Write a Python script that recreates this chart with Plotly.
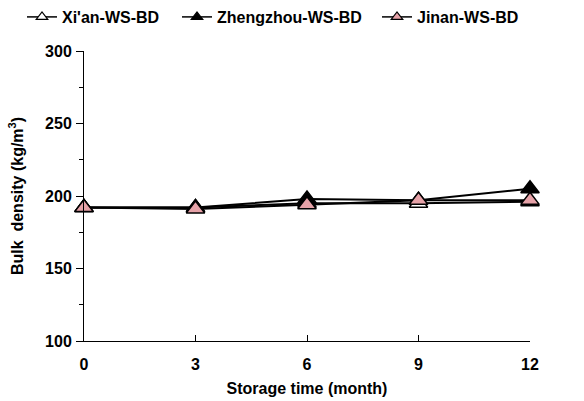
import plotly.graph_objects as go

# Storage time (months) and bulk density (kg/m3) for each wheat-straw bale source
months = [0, 3, 6, 9, 12]
xian_bd = [192, 192, 195, 195, 196]
zhengzhou_bd = [192, 192, 198, 197, 205]
jinan_bd = [192, 191, 194, 197, 197]

series_names = ["Xi'an-WS-BD", "Zhengzhou-WS-BD", "Jinan-WS-BD"]
fill_colors = ["white", "black", "#e6a2a8"]
legend_ids = ["legend", "legend2", "legend3"]
legend_x = [22, 177, 377]  # left edge of each legend entry, px

y_ticks = [100, 150, 200, 250, 300]
x_ticks = [0, 3, 6, 9, 12]

FONT = "Liberation Sans, Arial, sans-serif"
W, H = 584, 401

fig = go.Figure()
for name, vals, fc in zip(series_names, [xian_bd, zhengzhou_bd, jinan_bd], fill_colors):
    fig.add_trace(go.Scatter(
        x=months, y=vals, name=name, mode="lines+markers", showlegend=False,
        line=dict(color="black", width=2),
        marker=dict(symbol="triangle-up", size=16, color=fc,
                    line=dict(color="black", width=1.5)),
        cliponaxis=False,
    ))

# Legend keys: smaller triangles on a short line, one legend per series
for name, fc, lid in zip(series_names, fill_colors, legend_ids):
    fig.add_trace(go.Scatter(
        x=[None], y=[None], name=name, mode="lines+markers", legend=lid,
        line=dict(color="black", width=1.5),
        marker=dict(symbol="triangle-up", size=10, color=fc,
                    line=dict(color="black", width=1.2)),
    ))

legend_style = dict(
    orientation="h", xref="container", yref="container",
    y=1.0, xanchor="left", yanchor="top",
    font=dict(family=FONT, size=16, color="black", weight="bold"),
    bgcolor="rgba(0,0,0,0)", itemwidth=30,
)

fig.update_layout(
    width=W, height=H,
    margin=dict(l=84, r=54, t=51, b=60, autoexpand=False),
    paper_bgcolor="white", plot_bgcolor="white",
    font=dict(family=FONT, size=16, color="black", weight="bold"),
    showlegend=True,
    legend=dict(x=legend_x[0] / W, **legend_style),
    legend2=dict(x=legend_x[1] / W, **legend_style),
    legend3=dict(x=legend_x[2] / W, **legend_style),
)

fig.update_xaxes(
    range=[0, 12], tickvals=x_ticks, ticktext=[str(v) for v in x_ticks],
    showgrid=False, zeroline=False, showline=True, linecolor="black", linewidth=1,
    ticks="inside", ticklen=6, tickcolor="black", ticklabelstandoff=9,
    tickfont=dict(family=FONT, size=16, color="black", weight="bold"),
    title=dict(text="Storage time (month)", standoff=10,
               font=dict(family=FONT, size=16, color="black", weight="bold")),
)
fig.update_yaxes(
    range=[100, 300], tickvals=y_ticks, ticktext=[str(v) for v in y_ticks],
    showgrid=False, zeroline=False, showline=True, linecolor="black", linewidth=1,
    ticks="outside", ticklen=7, tickcolor="black", ticklabelstandoff=1,
    minor=dict(ticks="outside", ticklen=4, tickcolor="black", dtick=25, tick0=100),
    tickfont=dict(family=FONT, size=16, color="black", weight="bold"),
    title=dict(text="Bulk  density (kg/m<sup>3</sup>)", standoff=17,
               font=dict(family=FONT, size=16, color="black", weight="bold")),
)

fig.write_html("out.html")
